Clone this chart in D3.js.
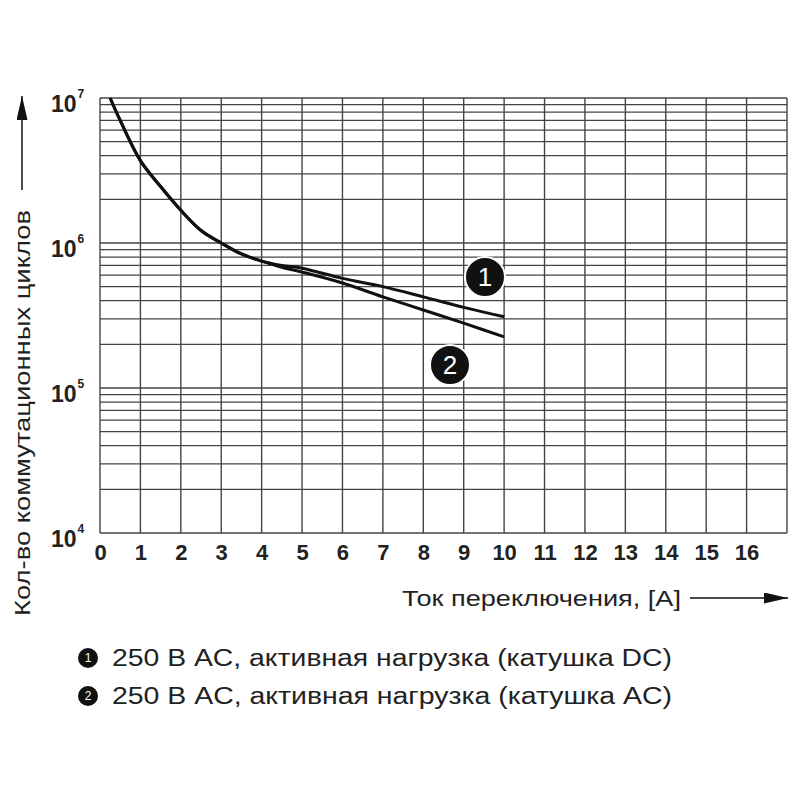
<!DOCTYPE html>
<html>
<head>
<meta charset="utf-8">
<script src="https://cdn.jsdelivr.net/npm/d3@7"></script>
<style>
  body { margin: 0; background: #fff; }
  svg { font-family: "Liberation Sans", Arial, Helvetica, sans-serif; }
</style>
</head>
<body>
<svg id="chart" width="800" height="800"></svg>
<script>
// x values (switching current, A) and cycle counts
const currentA = [0.25, 0.5, 1, 1.5, 2, 2.5, 3, 3.5, 4, 4.5, 5, 6, 7, 8, 9, 10];
const cyclesDC = [1e7, 7.0e6, 3.7e6, 2.45e6, 1.68e6, 1.22e6, 1.0e6, 8.4e5, 7.5e5, 7.0e5, 6.7e5, 5.7e5, 5.0e5, 4.25e5, 3.6e5, 3.1e5];
const cyclesAC = [1e7, 7.0e6, 3.7e6, 2.45e6, 1.68e6, 1.22e6, 1.0e6, 8.4e5, 7.5e5, 6.8e5, 6.3e5, 5.3e5, 4.25e5, 3.45e5, 2.8e5, 2.25e5];

const xTicks = d3.range(0, 17);
const decades = [1e4, 1e5, 1e6, 1e7];
const legendLabels = [
  "250 В AC, активная нагрузка (катушка DC)",
  "250 В AC, активная нагрузка (катушка AC)"
];
const xTitle = "Ток переключения, [A]";
const yTitle = "Кол-во коммутационных циклов";

const svg = d3.select("#chart");

const x = d3.scaleLinear().domain([0, 17]).range([100, 787]);
const y = d3.scaleLog().domain([1e4, 1e7]).range([533, 98]);

// arrow marker for axis titles
svg.append("defs").append("marker")
  .attr("id", "arrow")
  .attr("viewBox", "0 -5 10 10")
  .attr("refX", 10)
  .attr("refY", 0)
  .attr("markerWidth", 24)
  .attr("markerHeight", 11)
  .attr("markerUnits", "userSpaceOnUse")
  .attr("orient", "auto")
  .attr("preserveAspectRatio", "none")
  .append("path")
  .attr("d", "M0,-5L10,0L0,5Z")
  .attr("fill", "#111");

// grid
const grid = svg.append("g");
const minor = [];
decades.slice(0, 3).forEach(d => { for (let k = 1; k < 10; k++) minor.push(d * k); });
minor.push(1e7);

grid.selectAll("line.h")
  .data(minor)
  .join("line")
  .attr("class", "h")
  .attr("x1", x(0)).attr("x2", x(17))
  .attr("y1", d => y(d)).attr("y2", d => y(d))
  .attr("stroke", "#444")
  .attr("stroke-width", 1.3);

grid.selectAll("line.v")
  .data(d3.range(0, 18))
  .join("line")
  .attr("class", "v")
  .attr("x1", d => x(d)).attr("x2", d => x(d))
  .attr("y1", y(1e7)).attr("y2", y(1e4))
  .attr("stroke", "#444")
  .attr("stroke-width", 1.4);

// x tick labels
const xAxis = svg.append("g")
  .attr("transform", `translate(0,${y(1e4)})`)
  .call(d3.axisBottom(x).tickValues(xTicks).tickSize(0).tickPadding(11).tickFormat(d3.format("d")));
xAxis.select(".domain").remove();
xAxis.selectAll("text")
  .attr("font-size", 22)
  .attr("font-weight", "bold")
  .attr("fill", "#222")
  .attr("font-family", "'Liberation Sans', Arial, sans-serif");

// y tick labels with superscript
const yLab = svg.append("g").selectAll("text")
  .data(decades)
  .join("text")
  .attr("x", 51)
  .attr("y", d => y(d) + 14)
  .attr("font-size", 23)
  .attr("font-weight", "bold")
  .attr("fill", "#222");
yLab.append("tspan").text("10");
yLab.append("tspan")
  .attr("font-size", 12)
  .attr("dy", -14)
  .attr("dx", 1)
  .text(d => Math.round(Math.log10(d)));

// curves
const line = d3.line()
  .x(d => x(d[0]))
  .y(d => y(d[1]))
  .curve(d3.curveCatmullRom.alpha(0.5));

[cyclesAC, cyclesDC].forEach(series => {
  svg.append("path")
    .datum(currentA.map((c, i) => [c, series[i]]))
    .attr("d", line)
    .attr("fill", "none")
    .attr("stroke", "#111")
    .attr("stroke-width", 3);
});

// numbered badges on the chart
const badges = [
  { n: "1", cx: 485, cy: 277 },
  { n: "2", cx: 450, cy: 365 }
];
const bg = svg.append("g").selectAll("g")
  .data(badges)
  .join("g")
  .attr("transform", d => `translate(${d.cx},${d.cy})`);
bg.append("circle").attr("r", 20).attr("fill", "#111").attr("stroke", "#fff").attr("stroke-width", 2);
bg.append("text")
  .attr("text-anchor", "middle")
  .attr("dy", "0.36em")
  .attr("font-size", 26)
  .attr("fill", "#fff")
  .text(d => d.n);

// x title + arrow
svg.append("text")
  .attr("x", 402)
  .attr("y", 606)
  .attr("font-size", 22)
  .attr("fill", "#222")
  .attr("textLength", 279)
  .attr("lengthAdjust", "spacingAndGlyphs")
  .text(xTitle);
svg.append("line")
  .attr("x1", 690).attr("x2", 788)
  .attr("y1", 598).attr("y2", 598)
  .attr("stroke", "#111")
  .attr("stroke-width", 1.5)
  .attr("marker-end", "url(#arrow)");

// y title + arrow
svg.append("text")
  .attr("transform", "translate(30,616) rotate(-90)")
  .attr("font-size", 22)
  .attr("fill", "#222")
  .attr("textLength", 406)
  .attr("lengthAdjust", "spacingAndGlyphs")
  .text(yTitle);
svg.append("line")
  .attr("x1", 22).attr("x2", 22)
  .attr("y1", 190).attr("y2", 96)
  .attr("stroke", "#111")
  .attr("stroke-width", 1.5)
  .attr("marker-end", "url(#arrow)");

// legend
const leg = svg.append("g").selectAll("g")
  .data(legendLabels)
  .join("g")
  .attr("transform", (d, i) => `translate(88,${658 + i * 38})`);
leg.append("circle").attr("r", 10).attr("fill", "#111");
leg.append("text")
  .attr("text-anchor", "middle")
  .attr("dy", "0.36em")
  .attr("font-size", 12)
  .attr("fill", "#fff")
  .text((d, i) => i + 1);
leg.append("text")
  .attr("x", 24)
  .attr("dy", "0.36em")
  .attr("font-size", 23)
  .attr("fill", "#222")
  .attr("textLength", 560)
  .attr("lengthAdjust", "spacingAndGlyphs")
  .text(d => d);
</script>
</body>
</html>
